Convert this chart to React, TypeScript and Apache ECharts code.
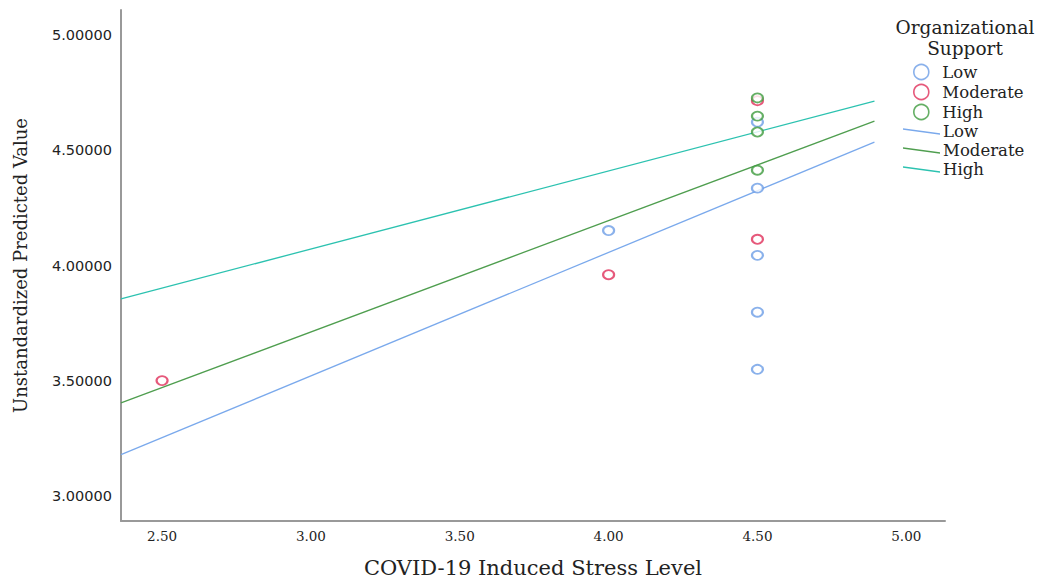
import React, { useEffect, useRef } from "react";
import * as echarts from "echarts";

const xTicks = [2.5, 3.0, 3.5, 4.0, 4.5, 5.0];
const yTicks = [3.0, 3.5, 4.0, 4.5, 5.0];

const lowPoints: [number, number][] = [
  [4.0, 4.152],
  [4.5, 4.623],
  [4.5, 4.336],
  [4.5, 4.044],
  [4.5, 3.797],
  [4.5, 3.549],
];
const moderatePoints: [number, number][] = [
  [2.5, 3.5],
  [4.0, 3.96],
  [4.5, 4.716],
  [4.5, 4.114],
];
const highPoints: [number, number][] = [
  [4.5, 4.728],
  [4.5, 4.649],
  [4.5, 4.58],
  [4.5, 4.414],
];

const lowLine: [number, number][] = [
  [2.362, 3.178],
  [4.893, 4.536],
];
const moderateLine: [number, number][] = [
  [2.362, 3.403],
  [4.893, 4.627],
];
const highLine: [number, number][] = [
  [2.362, 3.855],
  [4.893, 4.714],
];

const BLUE = "#6d9ee6";
const RED = "#e0305a";
const GREEN = "#3f9b3f";
const LINE_BLUE = "#7aa9ec";
const LINE_GREEN = "#4f9e4f";
const LINE_TEAL = "#2cc2b0";
const FONT = "DejaVu Serif";
const SANS = "DejaVu Sans";
const TEXT = "#222";

const lineIcon = "path://M0,0 L37,5 L37,6.6 L0,1.6 Z";

export default function App() {
  const ref = useRef<HTMLDivElement>(null);
  useEffect(() => {
    if (!ref.current) return;
    const chart = echarts.init(ref.current, undefined, { renderer: "svg" });
    const scatter = (name: string, data: [number, number][], color: string) => ({
      name,
      type: "scatter",
      data,
      symbol: "emptyCircle",
      symbolSize: [11, 9],
      itemStyle: { color, borderColor: color, borderWidth: 1.6 },
      z: 3,
    });
    const line = (name: string, data: [number, number][], color: string) => ({
      name,
      type: "line",
      data,
      showSymbol: false,
      symbol: "none",
      lineStyle: { color, width: 1.3 },
      itemStyle: { color },
      z: 2,
    });
    chart.setOption({
      animation: false,
      backgroundColor: "#fff",
      grid: { left: 121, right: 105, top: 10, bottom: 58, containLabel: false, outerBoundsMode: "none" },
      xAxis: {
        type: "value",
        min: 2.362,
        max: 5.13,
        name: "COVID-19 Induced Stress Level",
        nameLocation: "middle",
        nameGap: 36,
        nameTextStyle: { fontFamily: FONT, fontSize: 21, color: TEXT },
        axisLine: { show: true, lineStyle: { color: "#999", width: 2 } },
        axisTick: { show: false, customValues: xTicks },
        splitLine: { show: false },
        axisLabel: {
          customValues: xTicks,
          formatter: (v: number) => v.toFixed(2),
          fontFamily: FONT,
          fontSize: 13.5,
          color: TEXT,
          margin: 8,
        },
      },
      yAxis: {
        type: "value",
        min: 2.89,
        max: 5.11,
        name: "Unstandardized Predicted Value",
        nameLocation: "middle",
        nameGap: 92,
        nameTextStyle: { fontFamily: FONT, fontSize: 18, color: TEXT },
        axisLine: { show: true, lineStyle: { color: "#999", width: 2 } },
        axisTick: { show: false, customValues: yTicks },
        splitLine: { show: false },
        axisLabel: {
          customValues: yTicks,
          formatter: (v: number) => v.toFixed(5),
          fontFamily: SANS,
          fontSize: 14.5,
          color: TEXT,
          margin: 9,
        },
      },
      legend: [
        {
          orient: "vertical",
          left: 908,
          top: 57,
          itemWidth: 18,
          itemHeight: 15,
          itemGap: 0,
          textStyle: { fontFamily: FONT, fontSize: 16.5, lineHeight: 20, color: TEXT, padding: [0, 0, 0, 7] },
          data: [
            { name: "Low", icon: "circle", itemStyle: { color: "#fff", borderColor: BLUE, borderWidth: 1.6 } },
            { name: "Moderate", icon: "circle", itemStyle: { color: "#fff", borderColor: RED, borderWidth: 1.6 } },
            { name: "High", icon: "circle", itemStyle: { color: "#fff", borderColor: GREEN, borderWidth: 1.6 } },
          ],
          selectedMode: false,
        },
        {
          orient: "vertical",
          left: 898,
          top: 117,
          itemWidth: 37,
          itemHeight: 7,
          itemGap: 0,
          textStyle: { fontFamily: FONT, fontSize: 16.5, lineHeight: 19, color: TEXT, padding: [0, 0, 0, -2] },
          data: [
            { name: "Low ", icon: lineIcon },
            { name: "Moderate ", icon: lineIcon },
            { name: "High ", icon: lineIcon },
          ],
          selectedMode: false,
        },
      ],
      graphic: [
        {
          type: "text",
          x: 965,
          y: 27,
          style: {
            text: "Organizational",
            fontFamily: FONT,
            fontSize: 18.5,
            fill: TEXT,
            align: "center",
            verticalAlign: "middle",
          },
        },
        {
          type: "text",
          x: 965,
          y: 48,
          style: {
            text: "Support",
            fontFamily: FONT,
            fontSize: 18.5,
            fill: TEXT,
            align: "center",
            verticalAlign: "middle",
          },
        },
      ],
      series: [
        scatter("Low", lowPoints, BLUE),
        scatter("Moderate", moderatePoints, RED),
        scatter("High", highPoints, GREEN),
        line("Low ", lowLine, LINE_BLUE),
        line("Moderate ", moderateLine, LINE_GREEN),
        line("High ", highLine, LINE_TEAL),
      ],
    });
    return () => chart.dispose();
  }, []);
  return <div ref={ref} style={{ width: 1050, height: 579, position: "absolute", left: 0, top: 0 }} />;
}
